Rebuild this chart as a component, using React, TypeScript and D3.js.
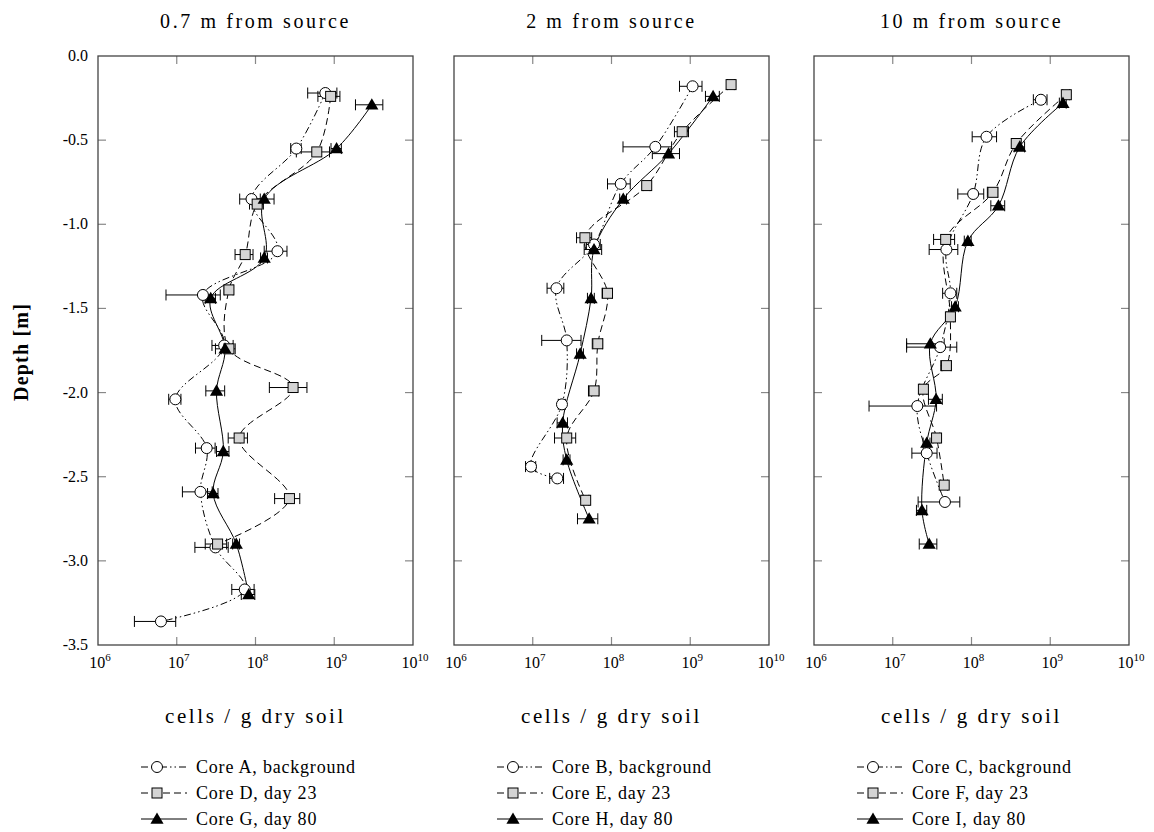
import * as React from 'react';
import * as d3 from 'd3';

// panel titles and legend text
const panelTitles = ['0.7 m from source', '2 m from source', '10 m from source'];
const legendLabels = [
  ['Core A, background', 'Core D, day 23', 'Core G, day 80'],
  ['Core B, background', 'Core E, day 23', 'Core H, day 80'],
  ['Core C, background', 'Core F, day 23', 'Core I, day 80'],
];
const depthTicks = [0, -0.5, -1, -1.5, -2, -2.5, -3, -3.5];
const exponentTicks = [6, 7, 8, 9, 10];

// 0.7 m from source
const coreADepth = [-0.22, -0.55, -0.85, -1.16, -1.42, -1.72, -2.04, -2.33, -2.59, -2.92, -3.17, -3.36];
const coreAValue = [7.7e8, 3.3e8, 8.9e7, 1.9e8, 2.15e7, 4.0e7, 9.6e6, 2.4e7, 2.0e7, 3.1e7, 7.3e7, 6.3e6];
const coreASd = [3.1e8, 5.0e7, 2.6e7, 6.1e7, 1.42e7, 1.2e7, 1.7e6, 6.7e6, 8.2e6, 1.4e7, 2.3e7, 3.4e6];

const coreDDepth = [-0.24, -0.57, -0.88, -1.18, -1.39, -1.74, -1.97, -2.27, -2.63, -2.9];
const coreDValue = [9.0e8, 6.0e8, 1.05e8, 7.4e7, 4.6e7, 4.6e7, 3.0e8, 6.2e7, 2.7e8, 3.3e7];
const coreDSd = [2.8e8, 2.7e8, 2.1e7, 1.9e7, 6.0e6, 9.2e6, 1.5e8, 1.7e7, 9.5e7, 1.0e7];

const coreGDepth = [-0.29, -0.55, -0.85, -1.2, -1.44, -1.74, -1.99, -2.35, -2.6, -2.9, -3.2];
const coreGValue = [3.0e9, 1.07e9, 1.29e8, 1.29e8, 2.7e7, 4.1e7, 3.2e7, 3.9e7, 2.9e7, 5.7e7, 8.2e7];
const coreGSd = [1.14e9, 1.6e8, 4.3e7, 1.3e7, 4.0e6, 1.0e7, 8.6e6, 7.0e6, 4.4e6, 5.7e6, 1.6e7];

// 2 m from source
const coreBDepth = [-0.18, -0.54, -0.76, -1.12, -1.38, -1.69, -2.07, -2.44, -2.51];
const coreBValue = [1.07e9, 3.6e8, 1.31e8, 6.0e7, 2.0e7, 2.7e7, 2.35e7, 9.5e6, 2.05e7];
const coreBSd = [3.4e8, 2.2e8, 4.2e7, 1.2e7, 4.8e6, 1.4e7, 2.4e6, 1.4e6, 4.1e6];

const coreEDepth = [-0.17, -0.45, -0.77, -1.08, -1.41, -1.71, -1.99, -2.27, -2.64];
const coreEValue = [3.3e9, 7.9e8, 2.8e8, 4.6e7, 8.9e7, 6.7e7, 6.0e7, 2.7e7, 4.7e7];
const coreESd = [3.3e8, 1.6e8, 2.8e7, 1.0e7, 1.3e7, 1.0e7, 9.0e6, 8.1e6, 4.7e6];

const coreHDepth = [-0.24, -0.58, -0.85, -1.15, -1.44, -1.77, -2.18, -2.4, -2.75];
const coreHValue = [1.95e9, 5.3e8, 1.41e8, 6.0e7, 5.5e7, 4.0e7, 2.4e7, 2.7e7, 5.2e7];
const coreHSd = [3.9e8, 2.0e8, 1.4e7, 1.5e7, 5.5e6, 4.0e6, 3.6e6, 2.7e6, 1.5e7];

// 10 m from source
const coreCDepth = [-0.26, -0.48, -0.82, -1.15, -1.41, -1.73, -2.08, -2.36, -2.65];
const coreCValue = [7.6e8, 1.55e8, 1.05e8, 4.8e7, 5.4e7, 4.0e7, 2.05e7, 2.7e7, 4.6e7];
const coreCSd = [1.5e8, 5.3e7, 3.8e7, 1.9e7, 1.1e7, 2.5e7, 1.55e7, 9.5e6, 2.5e7];

const coreFDepth = [-0.23, -0.52, -0.81, -1.09, -1.55, -1.84, -1.98, -2.27, -2.55];
const coreFValue = [1.6e9, 3.7e8, 1.87e8, 4.7e7, 5.4e7, 4.8e7, 2.45e7, 3.6e7, 4.5e7];
const coreFSd = [1.6e8, 3.7e7, 2.8e7, 1.4e7, 5.4e6, 7.2e6, 2.5e6, 3.6e6, 4.5e6];

const coreIDepth = [-0.28, -0.54, -0.89, -1.1, -1.49, -1.71, -2.04, -2.3, -2.7, -2.9];
const coreIValue = [1.45e9, 4.1e8, 2.2e8, 9.0e7, 6.2e7, 3.0e7, 3.55e7, 2.7e7, 2.35e7, 2.9e7];
const coreISd = [1.45e8, 6.2e7, 4.4e7, 9.0e6, 6.2e6, 1.5e7, 7.1e6, 2.7e6, 3.5e6, 7.3e6];

type Series = { depth: number[]; value: number[]; sd: number[] };

const panels: Series[][] = [
  [
    { depth: coreADepth, value: coreAValue, sd: coreASd },
    { depth: coreDDepth, value: coreDValue, sd: coreDSd },
    { depth: coreGDepth, value: coreGValue, sd: coreGSd },
  ],
  [
    { depth: coreBDepth, value: coreBValue, sd: coreBSd },
    { depth: coreEDepth, value: coreEValue, sd: coreESd },
    { depth: coreHDepth, value: coreHValue, sd: coreHSd },
  ],
  [
    { depth: coreCDepth, value: coreCValue, sd: coreCSd },
    { depth: coreFDepth, value: coreFValue, sd: coreFSd },
    { depth: coreIDepth, value: coreIValue, sd: coreISd },
  ],
];

const FONT = '"Liberation Serif", "DejaVu Serif", serif';
const panelLefts = [98, 454, 814];
const panelWidth = 315;
const top = 56;
const bottom = 645;
const dashes = ['7,3,1.5,3,1.5,3', '7,4', null];
const tickLen = 8;

const y = d3.scaleLinear().domain([0, -3.5]).range([top, bottom]);
const triangle = d3.symbol(d3.symbolTriangle, 75)() as string;

function Marker({ kind, x, yy }: { kind: number; x: number; yy: number }) {
  if (kind === 0)
    return <circle cx={x} cy={yy} r={5.5} fill="#fff" stroke="#000" strokeWidth={1} />;
  if (kind === 1)
    return <rect x={x - 5} y={yy - 5} width={10} height={10} fill="#d4d4d4" stroke="#000" strokeWidth={1} />;
  return <path d={triangle} transform={`translate(${x},${yy + 1})`} fill="#000" />;
}

function Panel({ index }: { index: number }) {
  const left = panelLefts[index];
  const x = d3.scaleLog().domain([1e6, 1e10]).range([left, left + panelWidth]);
  const series = panels[index];
  const line = d3
    .line<[number, number]>()
    .x((d) => d[0])
    .y((d) => d[1])
    .curve(d3.curveCatmullRom.alpha(0.5));
  const cx = left + panelWidth / 2;

  return (
    <g>
      <text x={cx} y={28} textAnchor="middle" fontSize={20} letterSpacing={2.6} fontFamily={FONT}>
        {panelTitles[index]}
      </text>

      {/* ticks */}
      {exponentTicks.slice(1, -1).map((e) => (
        <g key={'xt' + e} stroke="#888" strokeWidth={1.2}>
          <line x1={x(10 ** e)} x2={x(10 ** e)} y1={top} y2={top + tickLen} />
          <line x1={x(10 ** e)} x2={x(10 ** e)} y1={bottom} y2={bottom - tickLen} />
        </g>
      ))}
      {depthTicks.slice(1, -1).map((t) => (
        <g key={'yt' + t} stroke="#888" strokeWidth={1.2}>
          <line x1={left} x2={left + tickLen} y1={y(t)} y2={y(t)} />
          <line x1={left + panelWidth} x2={left + panelWidth - tickLen} y1={y(t)} y2={y(t)} />
        </g>
      ))}
      <rect x={left} y={top} width={panelWidth} height={bottom - top} fill="none" stroke="#444" strokeWidth={1.3} />

      {/* tick labels */}
      {exponentTicks.map((e) => (
        <text key={'xl' + e} x={x(10 ** e) + 2} y={668} textAnchor="middle" fontSize={16} fontFamily={FONT}>
          <tspan>10</tspan>
          <tspan dy={-7} fontSize={11}>{e}</tspan>
        </text>
      ))}
      {index === 0 &&
        depthTicks.map((t) => (
          <text key={'yl' + t} x={left - 10} y={y(t) + 5} textAnchor="end" fontSize={16} fontFamily={FONT}>
            {t === 0 ? '0.0' : d3.format('.1f')(t).replace('−', '-')}
          </text>
        ))}

      <text x={cx} y={723} textAnchor="middle" fontSize={21} letterSpacing={2.6} fontFamily={FONT}>
        cells / g dry soil
      </text>

      {/* curves */}
      {series.map((s, k) => (
        <path
          key={'c' + k}
          d={line(s.depth.map((dd, i) => [x(s.value[i]), y(dd)] as [number, number])) ?? ''}
          fill="none"
          stroke="#000"
          strokeWidth={1}
          strokeDasharray={dashes[k] ?? undefined}
        />
      ))}

      {/* error bars */}
      {series.map((s, k) =>
        s.depth.map((dd, i) => {
          const lo = x(Math.max(s.value[i] - s.sd[i], 1e6));
          const hi = x(s.value[i] + s.sd[i]);
          const yy = y(dd);
          return (
            <g key={'e' + k + '-' + i} stroke="#000" strokeWidth={1}>
              <line x1={lo} x2={hi} y1={yy} y2={yy} />
              <line x1={lo} x2={lo} y1={yy - 5.5} y2={yy + 5.5} />
              <line x1={hi} x2={hi} y1={yy - 5.5} y2={yy + 5.5} />
            </g>
          );
        })
      )}

      {/* markers */}
      {series.map((s, k) =>
        s.depth.map((dd, i) => <Marker key={'m' + k + '-' + i} kind={k} x={x(s.value[i])} yy={y(dd)} />)
      )}

      {/* legend */}
      {legendLabels[index].map((label, k) => {
        const ly = 767 + k * 26;
        const lx = left + 43;
        return (
          <g key={'lg' + k}>
            <line
              x1={lx}
              x2={lx + 46}
              y1={ly}
              y2={ly}
              stroke="#000"
              strokeWidth={1}
              strokeDasharray={dashes[k] ?? undefined}
            />
            <Marker kind={k} x={lx + 16} yy={ly} />
            <text x={lx + 55} y={ly + 6} fontSize={18} letterSpacing={0.8} fontFamily={FONT}>
              {label}
            </text>
          </g>
        );
      })}
    </g>
  );
}

export default function App() {
  return (
    <svg
      width={1154}
      height={832}
      style={{ position: 'absolute', left: 0, top: 0, background: '#fff' }}
    >
      <rect width={1154} height={832} fill="#fff" />
      <text
        transform="translate(28,352) rotate(-90)"
        textAnchor="middle"
        fontSize={20}
        fontWeight="bold"
        letterSpacing={1.2}
        fontFamily={FONT}
      >
        Depth [m]
      </text>
      {[0, 1, 2].map((i) => (
        <Panel key={i} index={i} />
      ))}
    </svg>
  );
}
